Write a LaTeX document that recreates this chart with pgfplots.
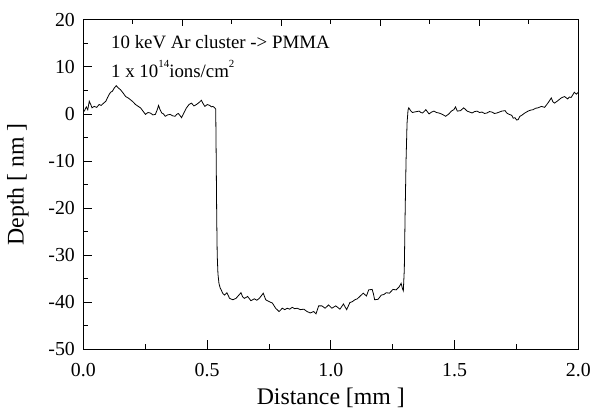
\documentclass[border=0pt]{standalone}
\usepackage{fontspec}
\setmainfont{Liberation Serif}
\usepackage{pgfplots}
\pgfplotsset{compat=1.18}
\usepackage{pgfplotstable}
\pgfplotstableread{
x y
0.000 0.5
0.004 0.6
0.012 1.5
0.018 0.9
0.024 2.7
0.030 2.0
0.035 1.3
0.044 1.6
0.054 1.4
0.064 2.0
0.072 1.8
0.080 2.2
0.091 2.7
0.098 3.5
0.104 4.1
0.110 4.6
0.117 4.8
0.125 5.5
0.133 6.0
0.140 5.6
0.151 5.1
0.160 4.5
0.171 3.7
0.181 3.4
0.191 3.0
0.200 2.6
0.211 2.0
0.222 1.6
0.231 1.3
0.241 0.6
0.251 -0.1
0.261 0.3
0.271 0.2
0.281 -0.2
0.291 -0.1
0.298 0.8
0.304 1.8
0.310 0.9
0.317 0.2
0.324 0.0
0.331 -0.5
0.341 -0.2
0.351 -0.1
0.361 -0.4
0.371 -0.5
0.377 -0.1
0.384 0.1
0.390 -0.3
0.397 -0.8
0.407 0.3
0.417 1.3
0.427 2.0
0.437 2.3
0.447 1.7
0.457 2.0
0.467 2.4
0.477 2.9
0.484 2.2
0.491 1.6
0.501 2.0
0.511 1.8
0.518 1.5
0.524 1.6
0.531 1.3
0.535 1.0
0.537 -10
0.539 -22
0.541 -30
0.544 -34
0.548 -36
0.553 -37
0.557 -37.4
0.564 -38.2
0.571 -38.5
0.580 -38.0
0.591 -39.2
0.604 -39.5
0.617 -39.2
0.627 -38.6
0.637 -38.0
0.644 -38.9
0.651 -39.2
0.664 -38.8
0.677 -39.7
0.691 -39.3
0.701 -39.6
0.711 -39.2
0.720 -38.6
0.727 -38.1
0.737 -39.5
0.751 -39.9
0.764 -40.2
0.777 -41.3
0.791 -42.0
0.804 -41.3
0.814 -41.6
0.824 -41.3
0.834 -41.5
0.844 -41.1
0.854 -41.4
0.864 -41.3
0.877 -41.6
0.891 -41.5
0.904 -42.0
0.917 -42.3
0.931 -42.0
0.940 -42.5
0.951 -40.8
0.964 -40.8
0.977 -41.3
0.991 -40.6
1.004 -41.3
1.020 -40.8
1.037 -41.5
1.051 -40.4
1.064 -41.6
1.077 -40.1
1.087 -39.9
1.097 -39.5
1.107 -39.3
1.117 -38.8
1.131 -38.1
1.144 -38.7
1.153 -37.4
1.167 -37.3
1.172 -38.2
1.177 -39.5
1.191 -39.4
1.204 -38.5
1.214 -38.4
1.224 -38.0
1.237 -38.1
1.251 -37.3
1.264 -37.4
1.277 -36.7
1.284 -36.0
1.290 -37.2
1.293 -37.6
1.297 -33
1.300 -22
1.304 -10
1.308 -2
1.312 0.8
1.315 1.3
1.320 0.9
1.324 0.6
1.330 0.3
1.337 0.4
1.347 0.5
1.357 0.6
1.364 0.3
1.371 0.2
1.384 0.9
1.397 0.0
1.407 0.4
1.417 0.6
1.427 0.3
1.437 0.2
1.451 -0.1
1.464 -0.5
1.477 0.0
1.487 0.6
1.497 0.9
1.504 1.5
1.511 0.6
1.524 0.7
1.537 1.3
1.551 0.6
1.561 0.4
1.571 0.2
1.581 0.5
1.591 0.6
1.601 0.3
1.611 0.4
1.621 0.1
1.631 0.2
1.641 0.5
1.651 0.4
1.661 0.1
1.671 0.2
1.681 0.4
1.691 0.6
1.704 0.7
1.711 0.2
1.717 0.0
1.731 -0.3
1.737 -0.9
1.744 -0.8
1.751 -1.3
1.757 -1.2
1.764 -0.5
1.771 -0.3
1.784 0.2
1.797 0.6
1.807 0.8
1.817 0.9
1.827 1.2
1.837 1.3
1.851 1.6
1.864 1.4
1.877 2.3
1.891 3.4
1.897 2.6
1.904 2.3
1.917 2.8
1.924 3.1
1.931 3.4
1.944 3.7
1.957 3.2
1.964 3.6
1.971 3.5
1.984 4.6
1.992 4.2
2.000 4.6
}\profile
\begin{document}
\begin{tikzpicture}
\begin{axis}[
  scale only axis, width=499pt, height=332pt,
  xmin=0, xmax=2, ymin=-50, ymax=20,
  xtick={0,0.5,1,1.5,2}, xticklabels={0.0,0.5,1.0,1.5,2.0},
  minor xtick={0.25,0.75,1.25,1.75},
  ytick={-50,-40,-30,-20,-10,0,10,20},
  yticklabels={-50,-40,-30,-20,-10,0,10,20},
  minor ytick={-45,-35,-25,-15,-5,5,15},
  xtick pos=left, ytick pos=left,
  tick align=inside,
  major tick length=9pt, minor tick length=5pt,
  tick style={black, line width=0.8pt},
  axis line style={line width=0.9pt},
  ticklabel style={font=\fontsize{20}{23}\selectfont},
  xticklabel style={yshift=-11pt},
  yticklabel style={xshift=-5pt},
  xlabel={Distance [mm ]}, ylabel={Depth [ nm ]},
  label style={font=\fontsize{24}{28}\selectfont},
  xlabel style={at={(axis description cs:0.5,-0.148)}, anchor=center},
  ylabel style={at={(axis description cs:-0.1323,0.5)}, anchor=center},
]
\addplot[black, line width=0.8pt] table[x=x, y=y] {\profile};
\node[anchor=west, inner sep=0pt, font=\fontsize{19}{22}\selectfont] at (axis cs:0.112,15.2) {10 keV Ar cluster -{}> PMMA};
\node[anchor=west, inner sep=0pt, font=\fontsize{19}{22}\selectfont] at (axis cs:0.112,9.5) {1 x 10\raisebox{0.55em}{\fontsize{11}{12}\selectfont 14}ions/cm\raisebox{0.55em}{\fontsize{11}{12}\selectfont 2}};
\end{axis}
\begin{axis}[
  scale only axis, width=499pt, height=332pt,
  xmin=0, xmax=2, ymin=-50, ymax=20,
  xtick={0.4,0.8,1.2,1.6}, minor xtick={0.2,0.6,1.0,1.4,1.8},
  ytick=\empty, minor ytick={13,6,-1,-8,-15,-22,-29,-36,-43},
  xtick pos=right, ytick pos=right,
  xticklabels={}, yticklabels={},
  tick align=inside,
  major tick length=6pt, minor tick length=4.5pt,
  tick style={black, line width=0.8pt},
  axis line style={line width=0.9pt},
]
\end{axis}
\path (-84pt,-58pt) rectangle (510pt,352pt);
\end{tikzpicture}
\end{document}
